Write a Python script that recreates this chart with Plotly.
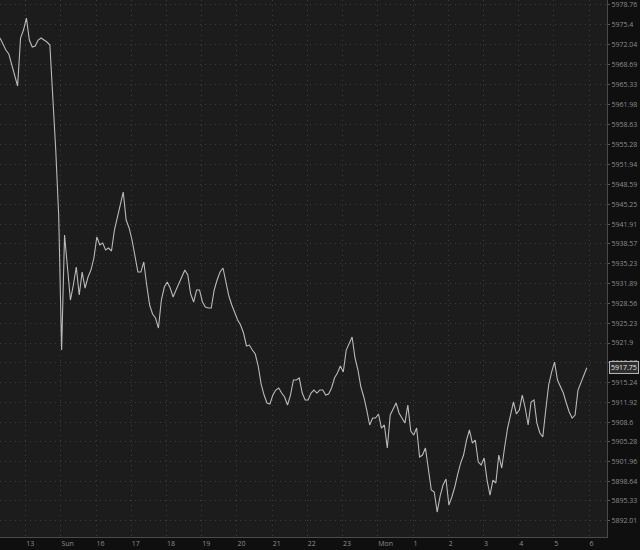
import plotly.graph_objects as go

# ---- data -------------------------------------------------------------
x_tick_labels = ["13", "Sun", "16", "17", "18", "19", "20", "21", "22", "23",
                 "Mon", "1", "2", "3", "4", "5", "6"]

y_tick_values = [5978.76, 5975.40, 5972.04, 5968.69, 5965.33, 5961.98, 5958.63,
                 5955.28, 5951.94, 5948.59, 5945.25, 5941.91, 5938.57, 5935.23,
                 5931.89, 5928.56, 5925.23, 5921.90, 5918.57, 5915.24, 5911.92,
                 5908.60, 5905.28, 5901.96, 5898.64, 5895.33, 5892.01]
y_tick_labels = ["5978.76", "5975.4", "5972.04", "5968.69", "5965.33", "5961.98",
                 "5958.63", "5955.28", "5951.94", "5948.59", "5945.25", "5941.91",
                 "5938.57", "5935.23", "5931.89", "5928.56", "5925.23", "5921.9",
                 "5918.57", "5915.24", "5911.92", "5908.6", "5905.28", "5901.96",
                 "5898.64", "5895.33", "5892.01"]

# 5-minute closes
prices = [
    5973.21, 5972.20, 5971.19, 5970.52, 5968.83, 5967.15, 5965.13, 5973.21, 5974.55, 5976.57,
    5972.87, 5971.69, 5971.86, 5972.87, 5973.21, 5972.87, 5972.53, 5972.03, 5963.62, 5954.37,
    5943.43, 5920.72, 5940.07, 5934.18, 5929.13, 5931.66, 5934.69, 5929.98, 5933.84, 5931.15,
    5933.00, 5934.18, 5936.20, 5939.73, 5938.39, 5938.72, 5937.55, 5937.88, 5937.38, 5940.91,
    5942.93, 5944.78, 5947.30, 5942.59, 5941.25, 5939.23, 5936.20, 5933.84, 5933.84, 5935.53,
    5931.66, 5928.29, 5926.78, 5926.11, 5924.42, 5929.13, 5931.32, 5932.16, 5931.15, 5929.64,
    5930.82, 5931.99, 5933.00, 5934.18, 5933.34, 5930.14, 5928.80, 5930.82, 5930.82, 5928.80,
    5927.96, 5927.79, 5927.79, 5930.82, 5932.50, 5933.84, 5934.52, 5932.33, 5929.81, 5928.29,
    5927.12, 5925.77, 5924.93, 5923.58, 5921.40, 5921.56, 5920.72, 5920.05, 5918.03, 5915.00,
    5913.15, 5911.81, 5911.64, 5913.15, 5913.99, 5914.33, 5913.49, 5912.82, 5911.47, 5913.15,
    5915.68, 5915.68, 5916.01, 5913.49, 5912.31, 5912.31, 5913.49, 5913.99, 5913.49, 5913.99,
    5913.99, 5913.15, 5913.32, 5914.33, 5916.01, 5916.85, 5918.03, 5917.02, 5920.72, 5921.73,
    5922.91, 5919.38, 5917.36, 5914.50, 5912.82, 5910.63, 5908.11, 5909.28, 5909.28, 5909.96,
    5907.60, 5908.11, 5904.24, 5909.79, 5910.80, 5911.81, 5910.13, 5909.28, 5908.44, 5911.47,
    5907.10, 5906.42, 5907.60, 5902.72, 5903.06, 5904.24, 5900.54, 5897.17, 5896.84, 5893.47,
    5896.16, 5898.01, 5899.02, 5894.65, 5896.00, 5897.68, 5899.86, 5901.71, 5903.06, 5905.58,
    5907.27, 5905.08, 5905.58, 5901.88, 5901.38, 5902.56, 5898.85, 5896.33, 5898.85, 5898.35,
    5903.06, 5900.87, 5904.41, 5907.60, 5909.79, 5911.98, 5909.96, 5910.63, 5913.15, 5910.97,
    5908.11, 5911.98, 5912.31, 5908.44, 5906.76, 5906.09, 5910.63, 5914.84, 5917.02, 5918.70,
    5915.68, 5914.50, 5913.49, 5911.81, 5910.29, 5909.28, 5909.79, 5913.99, 5915.17, 5916.52,
    5917.75,
]
last_price = 5917.75

start_hour = -0.73     # first bar, in session hours relative to the "13" tick
bar_minutes = 5
times = [start_hour + i * bar_minutes / 60 for i in range(len(prices))]
tick_positions = list(range(len(x_tick_labels)))

# ---- figure -----------------------------------------------------------
label_font = dict(family="Open Sans, DejaVu Sans, sans-serif", size=7, color="#8c8c8c")
grid_dash = "1px,4px"

fig = go.Figure()
fig.add_trace(go.Scatter(
    x=times, y=prices, mode="lines",
    line=dict(color="#b9b9b9", width=1.1),
    hoverinfo="skip", showlegend=False,
))

fig.update_layout(
    width=640, height=550,
    margin=dict(l=0, r=33, t=0, b=13),
    paper_bgcolor="#0f0f0f",
    plot_bgcolor="#1c1c1c",
    showlegend=False,
    xaxis=dict(
        range=[-0.73, 16.51],
        tickvals=tick_positions, ticktext=x_tick_labels,
        ticklabelposition="outside right",
        tickfont=label_font,
        showgrid=True, gridcolor="#3c3c3c", griddash=grid_dash, gridwidth=1,
        showline=True, linecolor="#4a4a4a", linewidth=1,
        ticks="", zeroline=False, automargin=False, fixedrange=True,
    ),
    yaxis=dict(
        side="right",
        range=[5889.27, 5979.60],
        tickvals=y_tick_values, ticktext=y_tick_labels,
        tickfont=label_font,
        showgrid=True, gridcolor="#3c3c3c", griddash=grid_dash, gridwidth=1,
        showline=True, linecolor="#4a4a4a", linewidth=1,
        ticks="outside", ticklen=2, tickcolor="#5a5a5a",
        zeroline=False, automargin=False, fixedrange=True,
    ),
    annotations=[dict(
        x=1, xref="paper", xanchor="left", xshift=2,
        y=last_price, yref="y", yanchor="middle",
        text="5917.75", showarrow=False,
        font=dict(family="Open Sans, DejaVu Sans, sans-serif", size=7, color="#e6e6e6"),
        bgcolor="#2e2e2e", bordercolor="#b5b5b5", borderwidth=1, borderpad=1,
    )],
)

fig.write_html("out.html", config={"displayModeBar": False})

# remove the browser's default page margin so the figure sits at (0, 0)
with open("out.html", "r", encoding="utf-8") as fh:
    page = fh.read()
page = page.replace("<head>", "<head><style>html,body{margin:0;padding:0;background:#0f0f0f;}</style>", 1)
with open("out.html", "w", encoding="utf-8") as fh:
    fh.write(page)
